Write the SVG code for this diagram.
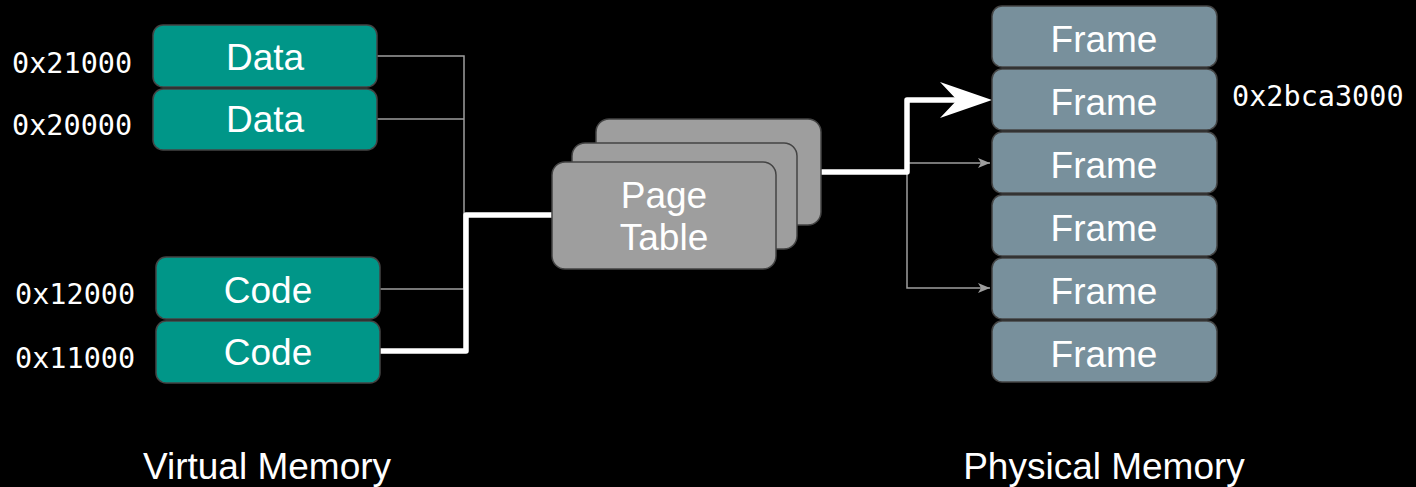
<svg xmlns="http://www.w3.org/2000/svg" width="1416" height="487" viewBox="0 0 1416 487">
  <defs>
    <style>
      .box { stroke: #444444; stroke-width: 1.5; }
      .virt { fill: #009688; }
      .phys { fill: #78909C; }
      .pt { fill: #9E9E9E; }
      .lbl { font-family: "Liberation Sans", Arial, sans-serif; font-size: 37px; fill: #ffffff; text-anchor: middle; }
      .addr { font-family: "DejaVu Sans Mono", "Liberation Mono", monospace; font-size: 28.5px; fill: #ffffff; }
      .thin { fill: none; stroke: #9E9E9E; stroke-width: 1.5; }
      .thick { fill: none; stroke: #ffffff; stroke-width: 5.5; stroke-linejoin: round; }
    </style>
    <marker id="arrowSmall" viewBox="0 0 12 10" refX="12" refY="5" markerWidth="12" markerHeight="10" markerUnits="userSpaceOnUse" orient="auto">
      <path d="M0,0 L12,5 L0,10 L3,5 Z" fill="#9E9E9E"/>
    </marker>
  </defs>

  <rect width="1416" height="487" fill="#000000"/>

  <!-- connectors -->
  <g id="connectors">
    <polyline class="thin" points="376,56 464,56 464,213"/>
    <polyline class="thin" points="376,119 464,119"/>
    <polyline class="thin" points="380,289 464,289 464,213"/>
    <polyline class="thick" points="380,351 466,351 466,215 552,215"/>
    <polyline class="thin" points="907,163 990,163" marker-end="url(#arrowSmall)"/>
    <polyline class="thin" points="907,172 907,288 990,288" marker-end="url(#arrowSmall)"/>
    <polyline class="thick" points="821,172 907,172 907,100 960,100"/>
    <path d="M992,100 L940,82 L957,100 L940,118 Z" fill="#ffffff"/>
  </g>

  <!-- virtual memory pages -->
  <g id="data-21000">
    <rect class="box virt" x="153" y="25" width="224" height="62" rx="10"/>
    <text class="lbl" x="265" y="70">Data</text>
  </g>
  <g id="data-20000">
    <rect class="box virt" x="153" y="89" width="224" height="61" rx="10"/>
    <text class="lbl" x="265" y="132">Data</text>
  </g>
  <g id="code-12000">
    <rect class="box virt" x="156" y="257" width="224" height="62" rx="10"/>
    <text class="lbl" x="268" y="303">Code</text>
  </g>
  <g id="code-11000">
    <rect class="box virt" x="156" y="321" width="224" height="62" rx="10"/>
    <text class="lbl" x="268" y="365">Code</text>
  </g>

  <!-- virtual addresses -->
  <g id="virtual-addresses">
    <text class="addr" x="12" y="73">0x21000</text>
    <text class="addr" x="12" y="135">0x20000</text>
    <text class="addr" x="15" y="304">0x12000</text>
    <text class="addr" x="15" y="368">0x11000</text>
  </g>

  <!-- page table stack -->
  <g id="page-table">
    <rect class="box pt" x="596" y="119" width="225" height="106" rx="13"/>
    <rect class="box pt" x="572" y="143" width="225" height="106" rx="13"/>
    <rect class="box pt" x="552" y="162" width="224" height="107" rx="13"/>
    <text class="lbl" x="664" y="208">Page</text>
    <text class="lbl" x="664" y="250">Table</text>
  </g>

  <!-- physical frames -->
  <g id="frame-1">
    <rect class="box phys" x="992" y="6" width="225" height="61" rx="10"/>
    <text class="lbl" x="1104" y="52">Frame</text>
  </g>
  <g id="frame-2">
    <rect class="box phys" x="992" y="69" width="225" height="61" rx="10"/>
    <text class="lbl" x="1104" y="115">Frame</text>
  </g>
  <g id="frame-3">
    <rect class="box phys" x="992" y="132" width="225" height="61" rx="10"/>
    <text class="lbl" x="1104" y="178">Frame</text>
  </g>
  <g id="frame-4">
    <rect class="box phys" x="992" y="195" width="225" height="61" rx="10"/>
    <text class="lbl" x="1104" y="241">Frame</text>
  </g>
  <g id="frame-5">
    <rect class="box phys" x="992" y="258" width="225" height="61" rx="10"/>
    <text class="lbl" x="1104" y="304">Frame</text>
  </g>
  <g id="frame-6">
    <rect class="box phys" x="992" y="321" width="225" height="61" rx="10"/>
    <text class="lbl" x="1104" y="367">Frame</text>
  </g>

  <text class="addr" x="1232" y="106">0x2bca3000</text>

  <!-- captions -->
  <text class="lbl" x="267" y="479">Virtual Memory</text>
  <text class="lbl" x="1104" y="479">Physical Memory</text>
</svg>
